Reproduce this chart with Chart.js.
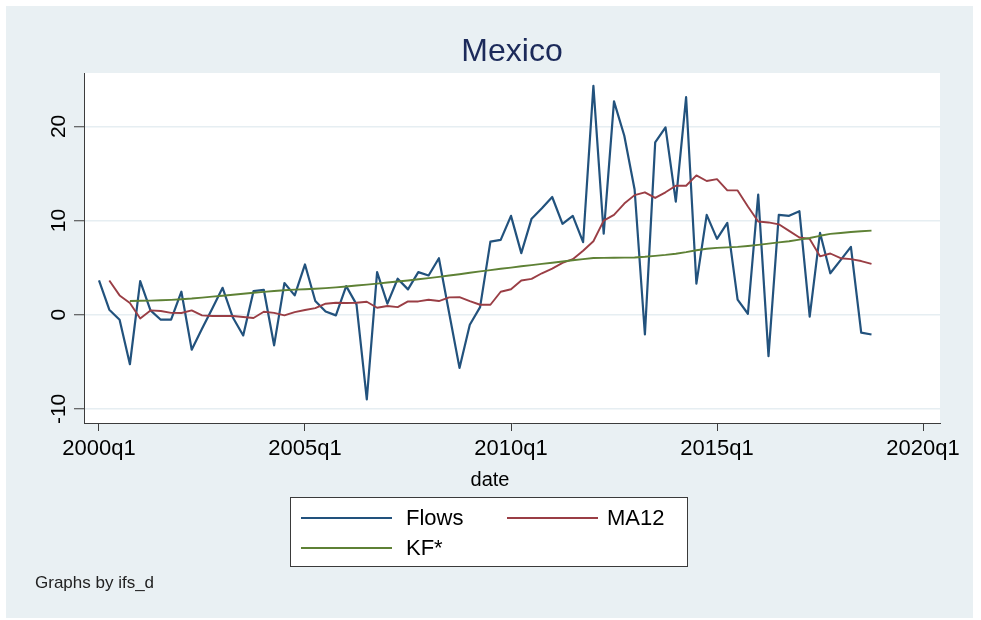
<!DOCTYPE html>
<html>
<head>
<meta charset="utf-8">
<script src="https://cdn.jsdelivr.net/npm/chart.js@4.4.1/dist/chart.umd.min.js"></script>
<style>
  html, body { margin: 0; padding: 0; background: #ffffff; }
  #wrap { position: relative; width: 981px; height: 620px; overflow: hidden; }
  #c { position: absolute; left: 0; top: 0; }
  .txt { position: absolute; font-family: "Liberation Sans", Arial, Helvetica, sans-serif; color: #000; white-space: nowrap; }
  #xtitle { left: 390px; width: 200px; top: 467px; text-align: center; font-size: 20px; line-height: 24px; }
  #note { left: 35px; top: 573px; font-size: 17px; line-height: 20px; color: #222; }
  #legend { position: absolute; left: 290px; top: 497px; width: 398px; height: 70px; box-sizing: border-box;
            border: 1px solid #3a3a3a; background: #ffffff; }
  .lg-line { position: absolute; height: 2px; }
  .lg-text { position: absolute; font-family: "Liberation Sans", Arial, Helvetica, sans-serif; font-size: 22px; line-height: 24px; color: #000; white-space: nowrap; }
</style>
</head>
<body>
<div id="wrap">
  <canvas id="c" width="981" height="620"></canvas>
  <div id="xtitle" class="txt">date</div>
  <div id="legend"></div>
  <div id="note" class="txt">Graphs by ifs_d</div>
</div>
<script>
// ---- data (quarterly, index 0 = 2000q1) ----
const seriesNames = ['Flows', 'MA12', 'KF*'];
const seriesColors = ['#22527D', '#9A3E45', '#5E8135'];

const flows = [
  3.64, 0.53, -0.53, -5.26, 3.57, 0.46, -0.53, -0.53,
  2.44, -3.71, -1.5, 0.67, 2.86, -0.3, -2.2, 2.5,
  2.65, -3.25, 3.36, 2.05, 5.34, 1.45, 0.35, -0.07,
  3.04, 1.1, -9.0, 4.52, 1.17, 3.82, 2.69, 4.52,
  4.17, 6.0, 0.15, -5.65, -1.06, 0.8, 7.77, 7.95,
  10.5, 6.54, 10.2, 11.3, 12.5, 9.65, 10.5, 7.7,
  24.3, 8.6, 22.65, 19.0, 13.3, -2.1, 18.3, 19.9,
  12.0, 23.1, 3.3, 10.6, 8.06, 9.75, 1.6, 0.1,
  12.75, -4.4, 10.6, 10.5, 11.0, -0.2, 8.7, 4.4,
  5.8, 7.2, -1.9, -2.1
];

const ma12 = [
  null, 3.64, 2.05, 1.24, -0.4, 0.46, 0.4, 0.2,
  0.18, 0.46, -0.07, -0.14, -0.14, -0.14, -0.25, -0.35,
  0.32, 0.2, -0.07, 0.28, 0.5, 0.7, 1.17, 1.27,
  1.24, 1.27, 1.38, 0.74, 0.92, 0.81, 1.41, 1.41,
  1.59, 1.45, 1.84, 1.87, 1.45, 1.06, 1.06, 2.44,
  2.7, 3.64, 3.8, 4.4, 4.9, 5.5, 5.9, 6.8,
  7.8, 10.0, 10.6, 11.8, 12.7, 13.0, 12.4, 13.0,
  13.7, 13.7, 14.8, 14.2, 14.4, 13.2, 13.2, 11.5,
  9.9, 9.8, 9.6, 8.9, 8.2, 8.05, 6.2, 6.5,
  6.0, 5.9, 5.7, 5.4
];

const kf = [
  null, null, null, 1.45, 1.48, 1.5, 1.53, 1.58,
  1.65, 1.72, 1.82, 1.92, 2.02, 2.12, 2.22, 2.33,
  2.43, 2.52, 2.6, 2.66, 2.71, 2.76, 2.82, 2.9,
  3.0, 3.1, 3.2, 3.3, 3.42, 3.53, 3.64, 3.76,
  3.88, 4.02, 4.16, 4.3, 4.45, 4.6, 4.74, 4.88,
  5.0, 5.14, 5.27, 5.4, 5.52, 5.65, 5.78, 5.9,
  6.02, 6.04, 6.05, 6.06, 6.08, 6.15, 6.25, 6.35,
  6.48, 6.65, 6.85, 7.0, 7.1, 7.15, 7.2, 7.3,
  7.42, 7.55, 7.68, 7.8, 7.98, 8.15, 8.38, 8.58,
  8.68, 8.78, 8.86, 8.93
];

const xTickPositions = [0, 20, 40, 60, 80];
const xTickLabels = ['2000q1', '2005q1', '2010q1', '2015q1', '2020q1'];
const yTickValues = [-10, 0, 10, 20];

// ---- helpers ----
const toXY = arr => arr.map((v, i) => ({ x: i, y: v }));
const FONT = '"Liberation Sans", Arial, Helvetica, sans-serif';
Chart.defaults.font.family = FONT;
Chart.defaults.color = '#000';

const bgPlugin = {
  id: 'stataBg',
  beforeDraw(chart) {
    const { ctx, chartArea: a } = chart;
    ctx.save();
    ctx.fillStyle = '#ffffff';
    ctx.fillRect(0, 0, chart.width, chart.height);
    ctx.fillStyle = '#E9F0F3';
    ctx.fillRect(6, 6, 967, 612);
    ctx.fillStyle = '#ffffff';
    ctx.fillRect(a.left, a.top, a.right - a.left, a.bottom - a.top);
    ctx.restore();
  }
};

const datasets = [flows, ma12, kf].map((arr, k) => ({
  label: seriesNames[k],
  data: toXY(arr),
  borderColor: seriesColors[k],
  backgroundColor: seriesColors[k],
  borderWidth: k === 0 ? 2.2 : 1.9,
  pointRadius: 0,
  tension: 0,
  fill: false,
  spanGaps: false,
  borderJoinStyle: 'round',
  order: 3 - k
}));

const chart = new Chart(document.getElementById('c'), {
  type: 'line',
  data: { datasets },
  plugins: [bgPlugin],
  options: {
    responsive: false,
    animation: false,
    events: [],
    layout: { padding: { left: 6, right: 41, top: 6, bottom: 122 } },
    plugins: {
      legend: { display: false },
      tooltip: { enabled: false },
      title: {
        display: true,
        text: 'Mexico',
        fullSize: false,
        color: '#1c2a5a',
        font: { size: 32, weight: 'normal', family: FONT },
        padding: { top: 27, bottom: 1.6 }
      }
    },
    scales: {
      x: {
        type: 'linear',
        min: -1.456,
        max: 81.65,
        afterBuildTicks: s => { s.ticks = xTickPositions.map(v => ({ value: v })); },
        afterFit: s => { s.height = 75; },
        ticks: {
          autoSkip: false,
          maxRotation: 0,
          minRotation: 0,
          padding: 5,
          color: '#000',
          font: { size: 22 },
          callback: v => xTickLabels[xTickPositions.indexOf(v)]
        },
        grid: { drawOnChartArea: false, color: '#3c3c3c', tickColor: '#3c3c3c', tickLength: 8, lineWidth: 1 },
        border: { display: true, color: '#3c3c3c', width: 1 }
      },
      y: {
        min: -11.5,
        max: 25.67,
        afterBuildTicks: s => { s.ticks = yTickValues.map(v => ({ value: v })); },
        afterFit: s => { s.width = 78; },
        ticks: {
          minRotation: 90,
          maxRotation: 90,
          crossAlign: 'center',
          padding: 0,
          color: '#000',
          font: { size: 21 }
        },
        grid: { color: '#E6EEF2', lineWidth: 1.5, tickColor: '#3c3c3c', tickLength: 10, tickWidth: 1 },
        border: { display: true, color: '#3c3c3c', width: 1 }
      }
    }
  }
});

// ---- legend built from the chart's datasets (2 columns, Stata style) ----
(function buildLegend() {
  const box = document.getElementById('legend');
  const cols = [{ line: 10, text: 115 }, { line: 216, text: 316 }];
  const rowTops = [8, 38];
  chart.data.datasets.forEach((ds, i) => {
    const c = cols[i % 2], top = rowTops[Math.floor(i / 2)];
    const ln = document.createElement('div');
    ln.className = 'lg-line';
    ln.style.left = c.line + 'px';
    ln.style.width = '91px';
    ln.style.top = (top + 11) + 'px';
    ln.style.background = ds.borderColor;
    box.appendChild(ln);
    const tx = document.createElement('div');
    tx.className = 'lg-text';
    tx.style.left = c.text + 'px';
    tx.style.top = top + 'px';
    tx.textContent = ds.label;
    box.appendChild(tx);
  });
})();
</script>
</body>
</html>
